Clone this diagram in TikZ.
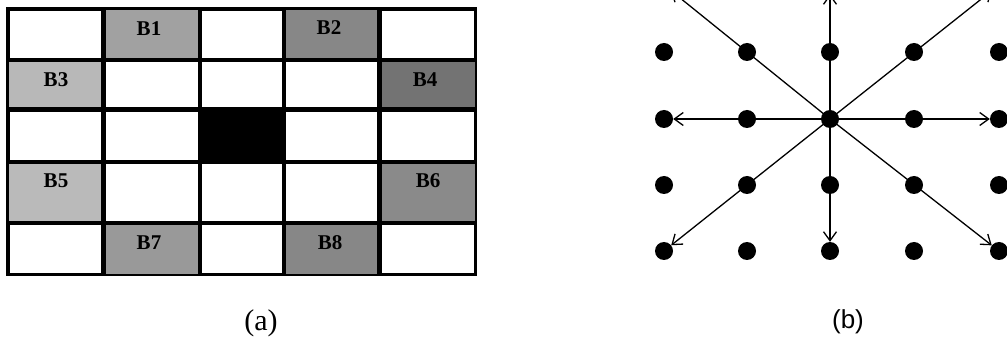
\documentclass[tikz,border=0pt]{standalone}
\usepackage{fontspec}
\setmainfont{Liberation Serif}
\newfontfamily\capserif{Liberation Serif}
\newfontfamily\capsans{Liberation Sans}
\usetikzlibrary{arrows.meta}
\begin{document}
\begin{tikzpicture}[x=1pt,y=-1pt,
  cell/.style={draw=black,line width=2.2pt,inner sep=0pt,anchor=north west},
  blab/.style={font=\capserif\fontsize{21}{21}\selectfont\bfseries,inner sep=0pt},
  dot/.style={circle,fill=black,inner sep=0pt,minimum size=18pt},
  ray/.style={line width=1.3pt,-{Straight Barb[length=9pt,width=13pt,line width=1.3pt]}},
  capt/.style={font=\capserif\fontsize{30}{30}\selectfont,inner sep=0pt}]
\clip (0,0) rectangle (1007,339);
\fill[white] (0,0) rectangle (1007,339);
% ---- (a) grid ----
\def\colx{{7.5,102.5,199,283,378.5,473.5}}
\def\rowy{{8.5,59,108.5,161,222,273}}
\foreach \r in {0,...,4}{
  \foreach \c in {0,...,4}{
    \pgfmathsetmacro{\xa}{\colx[\c]}
    \pgfmathsetmacro{\xb}{\colx[\c+1]}
    \pgfmathsetmacro{\ya}{\rowy[\r]}
    \pgfmathsetmacro{\yb}{\rowy[\r+1]}
    \pgfmathsetmacro{\w}{\xb-\xa}
    \pgfmathsetmacro{\h}{\yb-\ya}
    \node[cell,minimum width=\w pt,minimum height=\h pt] (g\r\c) at (\xa,\ya) {};
  }
}
\fill[black!37] (g01.north west) rectangle (g01.south east);
\fill[black!47] (g03.north west) rectangle (g03.south east);
\fill[black!28] (g10.north west) rectangle (g10.south east);
\fill[black!55] (g14.north west) rectangle (g14.south east);
\fill[black]    (g22.north west) rectangle (g22.south east);
\fill[black!27] (g30.north west) rectangle (g30.south east);
\fill[black!46] (g34.north west) rectangle (g34.south east);
\fill[black!40] (g41.north west) rectangle (g41.south east);
\fill[black!47] (g43.north west) rectangle (g43.south east);
\foreach \r in {0,...,4}{\foreach \c in {0,...,4}{
  \draw[line width=2.4pt] (g\r\c.north west) rectangle (g\r\c.south east);}}
\node[blab] (b1) at (149,29) {B1};
\node[blab] (b2) at (329,28) {B2};
\node[blab] (b3) at (56,80) {B3};
\node[blab] (b4) at (425,80) {B4};
\node[blab] (b5) at (56,181) {B5};
\node[blab] (b6) at (428,181) {B6};
\node[blab] (b7) at (149,243) {B7};
\node[blab] (b8) at (330,243) {B8};
\node[capt] (ca) at (261,323) {(a)};
% ---- (b) dots ----
\def\dx{{664,747,830,914,999}}
\def\dy{{-15,52,119,185,251}}
\foreach \r in {0,...,4}{\foreach \c in {0,...,4}{
  \pgfmathsetmacro{\px}{\dx[\c]}
  \pgfmathsetmacro{\py}{\dy[\r]}
  \node[dot] (d\r\c) at (\px,\py) {};}}
\foreach \t in {d00,d02,d04,d20,d24,d40,d42,d44}{
  \draw[ray] (d22.center) -- (\t);}
\node[capt,font=\capsans\fontsize{26}{26}\selectfont] (cb) at (848,322) {(b)};
\end{tikzpicture}
\end{document}
